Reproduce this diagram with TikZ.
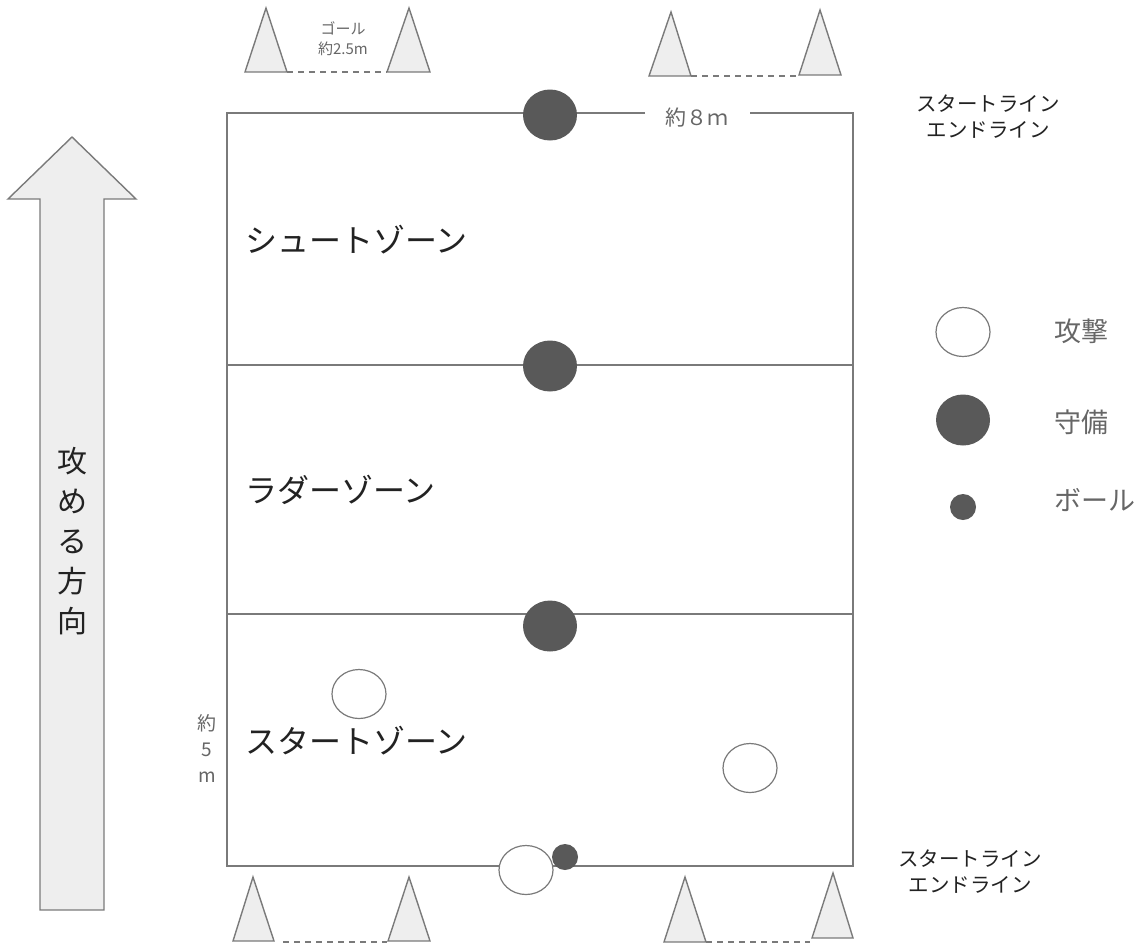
\documentclass[tikz,border=0pt]{standalone}
\usepackage{fontspec}
\setmainfont{Noto Sans CJK JP}
\usetikzlibrary{shapes.geometric}
\definecolor{linegray}{HTML}{7A7A7A}
\definecolor{conefill}{HTML}{EEEEEE}
\definecolor{darkfill}{HTML}{595959}
\definecolor{textgray}{HTML}{666666}
\definecolor{textdark}{HTML}{222222}
\tikzset{
  fieldline/.style={draw=linegray, line width=1.6pt},
  cone/.style={draw=linegray, fill=conefill, line width=1.4pt, line join=miter},
  goalgap/.style={draw=linegray, line width=1.4pt, dash pattern=on 6pt off 5pt},
  attacker/.style={ellipse, draw=linegray, fill=white, line width=1.2pt, minimum width=54pt, minimum height=49pt, inner sep=0pt},
  defender/.style={ellipse, draw=none, fill=darkfill, minimum width=54pt, minimum height=51pt, inner sep=0pt},
  ball/.style={circle, draw=none, fill=darkfill, minimum size=26pt, inner sep=0pt},
  zonelabel/.style={text=textdark, font=\fontsize{32}{36}\selectfont, anchor=west, inner sep=0pt},
  smalllabel/.style={text=textgray, font=\fontsize{15}{20}\selectfont, align=center, inner sep=0pt},
  measure/.style={text=textgray, font=\fontsize{21}{24}\selectfont, align=center, inner sep=0pt},
  linelabel/.style={text=textdark, font=\fontsize{20.5}{26}\selectfont, align=center, inner sep=0pt},
  legendlabel/.style={text=textgray, font=\fontsize{27}{30}\selectfont, anchor=west, inner sep=0pt},
  bigarrow/.style={draw=linegray, fill=conefill, line width=1.4pt},
}
\begin{document}
\begin{tikzpicture}[x=1pt,y=-1pt]
\useasboundingbox (0,0) rectangle (1142,946);

% direction arrow
\draw[bigarrow] (40,910) -- (40,199) -- (8,199) -- (72,137) -- (136,199) -- (104,199) -- (104,910) -- cycle;
\node[text=textdark, font=\fontsize{30}{40}\selectfont, align=center, inner sep=0pt] (dir) at (72,541) {攻\\め\\る\\方\\向};

% field
\coordinate (tl) at (227,113);
\coordinate (tr) at (853,113);
\coordinate (br) at (853,866);
\coordinate (bl) at (227,866);
\coordinate (gapL) at (645,113);
\coordinate (gapR) at (750,113);
\draw[fieldline] (gapL) -- (tl) -- (bl) -- (br) -- (tr) -- (gapR);
\coordinate (m1l) at (227,365);
\coordinate (m1r) at (853,365);
\coordinate (m2l) at (227,614);
\coordinate (m2r) at (853,614);
\draw[fieldline] (m1l) -- (m1r);
\draw[fieldline] (m2l) -- (m2r);
\node[measure] (w8) at (697,118) {約８ｍ};
\node[measure, font=\fontsize{19}{26}\selectfont] (h5) at (207,748) {約\\5\\m};

% zone labels
\node[zonelabel] (z1) at (245,240) {シュートゾーン};
\node[zonelabel] (z2) at (245,490) {ラダーゾーン};
\node[zonelabel] (z3) at (245,741) {スタートゾーン};

% players
\node[defender] (d1) at (550,115) {};
\node[defender] (d2) at (550,366) {};
\node[defender] (d3) at (550,626) {};
\node[attacker] (a1) at (359,694) {};
\node[attacker] (a2) at (750,768) {};
\node[attacker] (a3) at (526,870) {};
\node[ball] (b1) at (565,857) {};

% cones top
\draw[cone] (245,72) -- (266,8) -- (287,72) -- cycle;
\draw[cone] (387,72) -- (409,8) -- (430,72) -- cycle;
\draw[goalgap] (287,72) -- (387,72);
\node[smalllabel] (goal) at (343,39) {ゴール\\約2.5m};
\draw[cone] (649,76) -- (671,12) -- (691,76) -- cycle;
\draw[cone] (799,75) -- (820,10) -- (841,75) -- cycle;
\draw[goalgap] (691,76) -- (797,76);

% cones bottom
\draw[cone] (233,941) -- (253,877) -- (274,941) -- cycle;
\draw[cone] (388,941) -- (409,877) -- (430,941) -- cycle;
\draw[goalgap] (283,942) -- (387,942);
\draw[cone] (664,942) -- (685,877) -- (706,942) -- cycle;
\draw[cone] (812,938) -- (833,873) -- (853,938) -- cycle;
\draw[goalgap] (706,942) -- (810,942);

% line labels
\node[linelabel] (sl1) at (988,117) {スタートライン\\エンドライン};
\node[linelabel] (sl2) at (970,872) {スタートライン\\エンドライン};

% legend
\node[attacker] (la) at (963,332) {};
\node[defender] (ld) at (963,420) {};
\node[ball] (lb) at (963,507) {};
\node[legendlabel] (lta) at (1054,331) {攻撃};
\node[legendlabel] (ltd) at (1054,422) {守備};
\node[legendlabel] (ltb) at (1054,500) {ボール};
\end{tikzpicture}
\end{document}
